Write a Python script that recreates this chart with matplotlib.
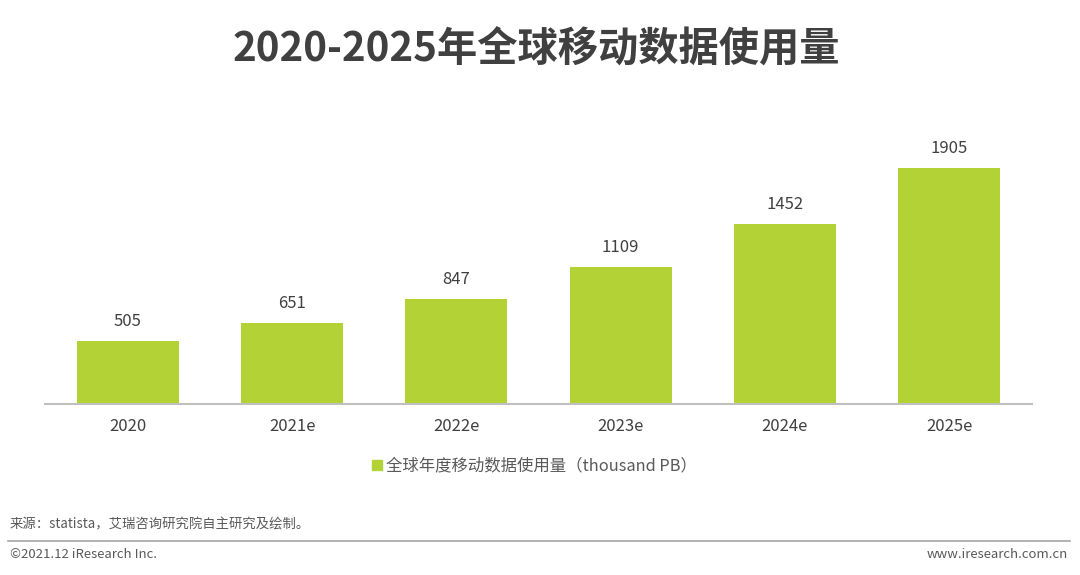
import matplotlib
matplotlib.use("Agg")
import matplotlib.pyplot as plt
from matplotlib.lines import Line2D

plt.rcParams['font.family'] = ['Noto Sans CJK SC', 'DejaVu Sans']

categories = ["2020", "2021e", "2022e", "2023e", "2024e", "2025e"]
values = [505, 651, 847, 1109, 1452, 1905]
title = "2020-2025年全球移动数据使用量"
legend_label = "全球年度移动数据使用量（thousand PB）"
source_text = "来源：statista，艾瑞咨询研究院自主研究及绘制。"
footer_left = "©2021.12 iResearch Inc."
footer_right = "www.iresearch.com.cn"

W, H = 1080, 575
fig = plt.figure(figsize=(W / 100, H / 100), dpi=100)

ax_left, ax_right = 45, 1032
ax_bottom, ax_top = 404, 120
ax = fig.add_axes([ax_left / W, (H - ax_bottom) / H, (ax_right - ax_left) / W, (ax_bottom - ax_top) / H])

bar_color = '#B2D235'
x = list(range(len(categories)))
bars = ax.bar(x, values, width=0.62, color=bar_color, zorder=2)
ax.set_xlim(-0.505, 5.505)
ax.set_ylim(0, (ax_bottom - ax_top) / (236 / 1905))

for xi, v in zip(x, values):
    ax.annotate(str(v), (xi, v), xytext=(0, 8), textcoords='offset points',
                ha='center', va='bottom', fontsize=12, color='#404040')

ax.set_xticks(x)
ax.set_xticklabels(categories, fontsize=12, color='#404040')
ax.tick_params(axis='x', length=0, pad=10)
ax.set_yticks([])
for s in ['top', 'right', 'left']:
    ax.spines[s].set_visible(False)
ax.spines['bottom'].set_color('#BFBFBF')
ax.spines['bottom'].set_linewidth(1.5)

fig.text(536 / W, 1 - 50 / H, title, ha='center', va='center', fontsize=29,
         fontweight='bold', color='#404040')

handle = Line2D([], [], marker='s', linestyle='none', markersize=7, color=bar_color)
fig.legend([handle], [legend_label], loc='center', bbox_to_anchor=(534 / W, 1 - 466 / H),
           frameon=False, fontsize=11.8, handlelength=0.7, handletextpad=0.2, labelcolor='#595959')

fig.text(10 / W, 1 - 524 / H, source_text, ha='left', va='center', fontsize=9.6, color='#595959')
fig.add_artist(Line2D([8 / W, 1070 / W], [1 - 541 / H, 1 - 541 / H], color='#A6A6A6', linewidth=1.2))
fig.text(10 / W, 1 - 554 / H, footer_left, ha='left', va='center', fontsize=9.5, color='#595959')
fig.text(1068 / W, 1 - 554 / H, footer_right, ha='right', va='center', fontsize=9.5, color='#595959')

fig.savefig('out.png', dpi=100, facecolor='white')
